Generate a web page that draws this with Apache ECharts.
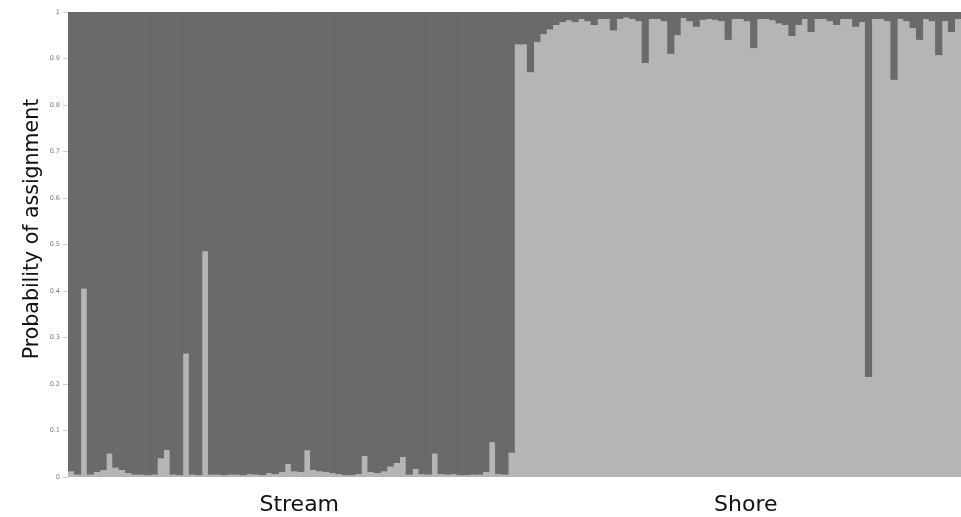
<!DOCTYPE html>
<html>
<head>
<meta charset="utf-8">
<script src="https://cdn.jsdelivr.net/npm/echarts@6/dist/echarts.min.js"></script>
<style>
  html, body { margin: 0; padding: 0; background: #ffffff; }
  #chart { width: 961px; height: 517px; }
</style>
</head>
<body>
<div id="chart"></div>
<script>
// Per-individual probability of assignment to the shore cluster (light segment)
const streamShoreProb = [
  0.012, 0.005, 0.405, 0.005, 0.010, 0.015, 0.050, 0.020, 0.015, 0.008,
  0.005, 0.005, 0.004, 0.005, 0.040, 0.058, 0.005, 0.004, 0.265, 0.005,
  0.004, 0.485, 0.005, 0.005, 0.004, 0.005, 0.005, 0.004, 0.006, 0.005,
  0.004, 0.008, 0.006, 0.010, 0.028, 0.012, 0.010, 0.057, 0.015, 0.012,
  0.010, 0.008, 0.006, 0.004, 0.003, 0.006, 0.045, 0.010, 0.008, 0.012,
  0.022, 0.030, 0.043, 0.005, 0.017, 0.006, 0.005, 0.050, 0.006, 0.005,
  0.006, 0.004, 0.004, 0.005, 0.005, 0.010, 0.075, 0.006, 0.005, 0.052
];
const shoreShoreProb = [
  0.930, 0.930, 0.870, 0.935, 0.952, 0.962, 0.972, 0.978, 0.982, 0.978,
  0.985, 0.980, 0.972, 0.985, 0.985, 0.960, 0.985, 0.988, 0.985, 0.980,
  0.890, 0.985, 0.985, 0.980, 0.910, 0.950, 0.987, 0.980, 0.968, 0.983,
  0.985, 0.983, 0.980, 0.940, 0.985, 0.985, 0.980, 0.922, 0.985, 0.985,
  0.982, 0.975, 0.972, 0.948, 0.972, 0.985, 0.957, 0.985, 0.985, 0.980,
  0.972, 0.985, 0.985, 0.968, 0.978, 0.215, 0.985, 0.985, 0.980, 0.854,
  0.985, 0.980, 0.965, 0.940, 0.985, 0.980, 0.907, 0.980, 0.957, 0.985
];
const groupNames = ['Stream', 'Shore'];
const yTicks = [0, 0.1, 0.2, 0.3, 0.4, 0.5, 0.6, 0.7, 0.8, 0.9, 1];
const yTitle = 'Probability of assignment';

const shoreProb = streamShoreProb.concat(shoreShoreProb);
const streamProb = shoreProb.map(p => +(1 - p).toFixed(4));
const individuals = shoreProb.map((_, i) => 'ind' + (i + 1));

const LIGHT = '#b5b5b5';
const DARK = '#6a6a6a';

const chart = echarts.init(document.getElementById('chart'), null, { renderer: 'canvas' });

chart.setOption({
  backgroundColor: '#ffffff',
  animation: false,
  grid: { left: 68, right: 0, top: 12, bottom: 40, containLabel: false },
  xAxis: [
    {
      type: 'category',
      data: individuals,
      axisLine: { show: false },
      axisTick: { show: false },
      axisLabel: { show: false },
      splitLine: { show: false }
    },
    {
      // group labels under each half of the plot
      type: 'category',
      data: groupNames,
      position: 'bottom',
      axisLine: { show: false },
      axisTick: { show: false },
      splitLine: { show: false },
      axisLabel: {
        margin: 17,
        fontFamily: 'DejaVu Sans',
        fontSize: 22,
        color: '#111111',
        padding: [0, 0, 0, 16]
      }
    }
  ],
  yAxis: {
    type: 'value',
    min: 0,
    max: 1,
    interval: 0.1,
    axisLine: { show: true, lineStyle: { color: '#d8d8d8', width: 1 } },
    axisTick: { show: true, length: 5, lineStyle: { color: '#cfcfcf' } },
    splitLine: { show: false },
    axisLabel: {
      margin: 8,
      fontFamily: 'DejaVu Sans',
      fontSize: 6.5,
      color: '#7a7a7a',
      formatter: v => {
        const t = yTicks.find(k => Math.abs(k - v) < 1e-9);
        return t === undefined ? '' : String(t);
      }
    }
  },
  series: [
    {
      name: 'Shore cluster',
      type: 'bar',
      stack: 'q',
      xAxisIndex: 0,
      data: shoreProb,
      // columns slightly wider than their band so neighbours touch without seams
      barWidth: '112%',
      barGap: 0,
      itemStyle: { color: LIGHT },
      emphasis: { disabled: true }
    },
    {
      name: 'Stream cluster',
      type: 'bar',
      stack: 'q',
      xAxisIndex: 0,
      data: streamProb,
      barWidth: '112%',
      barGap: 0,
      itemStyle: { color: DARK },
      emphasis: { disabled: true }
    }
  ],
  graphic: [
    {
      type: 'text',
      x: 33,
      y: 229,
      rotation: Math.PI / 2,
      style: {
        text: yTitle,
        fontFamily: 'DejaVu Sans',
        fontSize: 20.5,
        fill: '#111111',
        align: 'center',
        verticalAlign: 'middle'
      }
    }
  ]
});
</script>
</body>
</html>
